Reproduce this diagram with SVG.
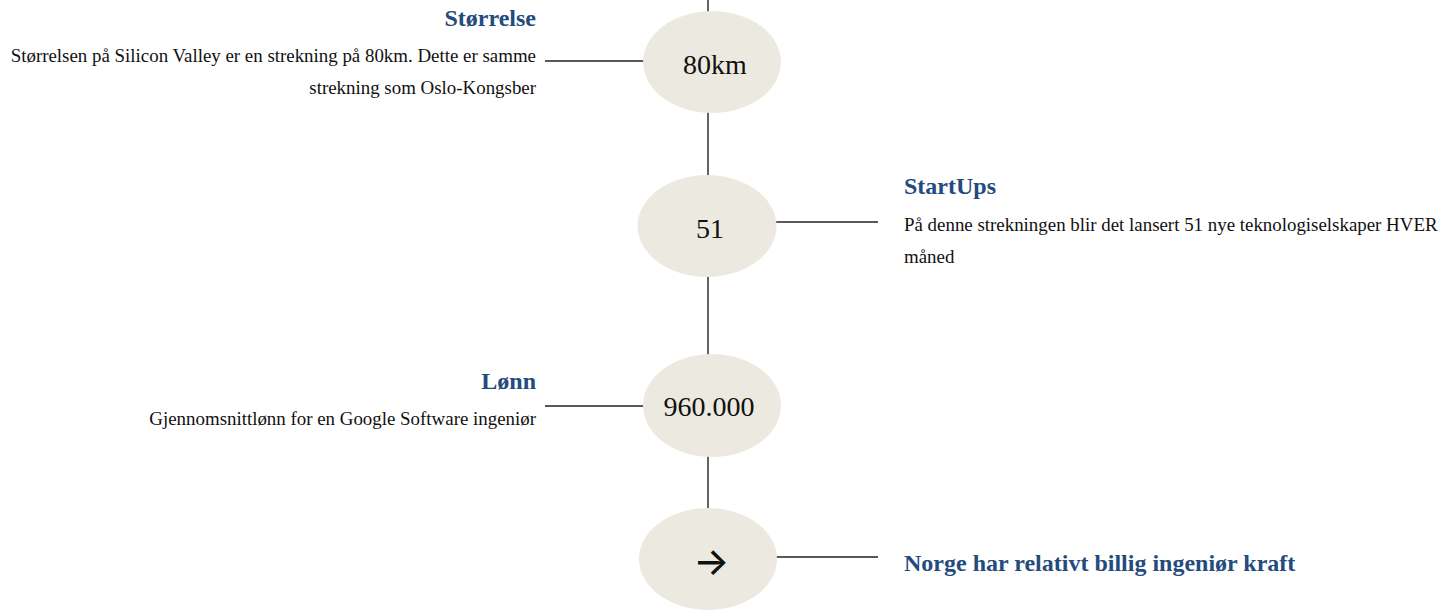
<svg xmlns="http://www.w3.org/2000/svg" width="1439" height="610" viewBox="0 0 1439 610">
<style>
.bg{fill:#ffffff}
.node{fill:#eceae0;stroke:none}
.val{font-family:"Liberation Serif","Times New Roman",serif;font-size:28px;fill:#111111;text-anchor:middle}
.arrow{font-family:Inter,sans-serif;font-size:38px;font-weight:500;fill:#111111;text-anchor:middle}
.head{font-family:"Liberation Serif","Times New Roman",serif;font-size:24px;font-weight:bold;fill:#244b7d}
.desc{font-family:"Liberation Serif","Times New Roman",serif;font-size:18.9px;fill:#111111}
.r{text-anchor:end}
.conn line{stroke:#222222;stroke-width:1.4}
</style>
<rect class="bg" x="0" y="0" width="1439" height="610"/>
<g id="connectors" class="conn">
<line x1="708" y1="0" x2="708" y2="12"/>
<line x1="708" y1="112" x2="708" y2="176"/>
<line x1="708" y1="276" x2="708" y2="355"/>
<line x1="708" y1="456" x2="708" y2="509"/>
<line x1="545" y1="61" x2="644" y2="61"/>
<line x1="776" y1="222" x2="878" y2="222"/>
<line x1="545" y1="406" x2="644" y2="406"/>
<line x1="776" y1="557" x2="878" y2="557"/>
</g>
<g id="node-storrelse">
<ellipse class="node" cx="712" cy="62" rx="69" ry="51"/>
<text class="val" x="715" y="74">80km</text>
<text class="head r" x="536" y="26">Størrelse</text>
<text class="desc r" x="536" y="62">Størrelsen på Silicon Valley er en strekning på 80km. Dette er samme</text>
<text class="desc r" x="536" y="94">strekning som Oslo-Kongsber</text>
</g>
<g id="node-startups">
<ellipse class="node" cx="707" cy="226" rx="69.5" ry="51"/>
<text class="val" x="710" y="238">51</text>
<text class="head" x="904" y="194">StartUps</text>
<text class="desc" x="904" y="231">På denne strekningen blir det lansert 51 nye teknologiselskaper HVER</text>
<text class="desc" x="904" y="263">måned</text>
</g>
<g id="node-lonn">
<ellipse class="node" cx="712" cy="405.5" rx="69" ry="51.5"/>
<text class="val" x="709" y="416">960.000</text>
<text class="head r" x="536" y="389">Lønn</text>
<text class="desc r" x="536" y="425">Gjennomsnittlønn for en Google Software ingeniør</text>
</g>
<g id="node-norge">
<ellipse class="node" cx="708" cy="559" rx="69" ry="51"/>
<text class="arrow" x="711.5" y="575">→</text>
<text class="head" x="904" y="571">Norge har relativt billig ingeniør kraft</text>
</g>
</svg>
